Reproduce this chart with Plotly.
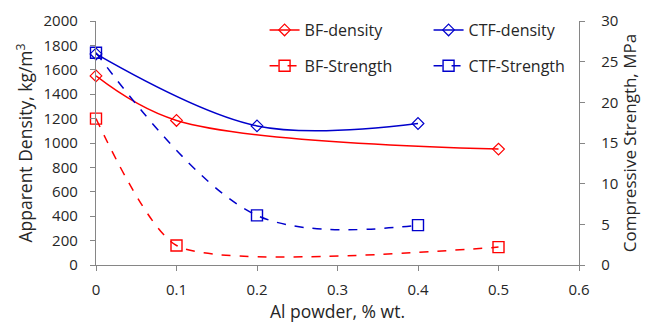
import plotly.graph_objects as go

bf_x = [0, 0.1, 0.5]
bf_density = [1550, 1185, 950]
bf_strength = [18.0, 2.4, 2.2]

ctf_x = [0, 0.2, 0.4]
ctf_density = [1730, 1140, 1160]
ctf_strength = [26.1, 6.1, 4.9]

RED = "#FF0000"
BLUE = "#0000CC"
FONT = "Open Sans"
TXT = "#262626"

fig = go.Figure()
fig.add_trace(go.Scatter(x=bf_x, y=bf_density, name="BF-density", mode="lines+markers",
                         line=dict(color=RED, width=1.5, shape="spline", smoothing=1.0),
                         marker=dict(symbol="diamond-open", size=9, color=RED, line=dict(width=1.2)),
                         cliponaxis=False, legend="legend"))
fig.add_trace(go.Scatter(x=ctf_x, y=ctf_density, name="CTF-density", mode="lines+markers",
                         line=dict(color=BLUE, width=1.5, shape="spline", smoothing=1.0),
                         marker=dict(symbol="diamond-open", size=9, color=BLUE, line=dict(width=1.2)),
                         cliponaxis=False, legend="legend"))
fig.add_trace(go.Scatter(x=bf_x, y=bf_strength, name="BF-Strength", mode="lines+markers", yaxis="y2",
                         line=dict(color=RED, width=1.5, dash="dash", shape="spline", smoothing=0.6),
                         marker=dict(symbol="square-open", size=11, color=RED, line=dict(width=1.4)),
                         cliponaxis=False, legend="legend2"))
fig.add_trace(go.Scatter(x=ctf_x, y=ctf_strength, name="CTF-Strength", mode="lines+markers", yaxis="y2",
                         line=dict(color=BLUE, width=1.5, dash="dash", shape="spline", smoothing=1.0),
                         marker=dict(symbol="square-open", size=11, color=BLUE, line=dict(width=1.4)),
                         cliponaxis=False, legend="legend2"))

axis_common = dict(showgrid=False, zeroline=False, showline=True, linecolor="#868686", linewidth=1.3,
                   ticks="outside", ticklen=5, tickcolor="#868686", automargin=False,
                   tickfont=dict(family=FONT, size=15, color=TXT))

fig.update_layout(
    width=642, height=319,
    margin=dict(l=88, r=71, t=13, b=62, autoexpand=False),
    plot_bgcolor="white", paper_bgcolor="white",
    font=dict(family=FONT, size=15, color=TXT),
    xaxis=dict(range=[0, 0.6], tickvals=[0, 0.1, 0.2, 0.3, 0.4, 0.5, 0.6],
               ticktext=["0", "0.1", "0.2", "0.3", "0.4", "0.5", "0.6"], ticklabelstandoff=6,
               title=dict(text="Al powder, % wt.", font=dict(family=FONT, size=17.5, color=TXT), standoff=6),
               **axis_common),
    yaxis=dict(range=[0, 2000], dtick=200, ticklabelstandoff=9,
               title=dict(text="Apparent Density, kg/m<sup>3</sup>", font=dict(family=FONT, size=17.5, color=TXT), standoff=6),
               **axis_common),
    yaxis2=dict(range=[0, 30], dtick=5, overlaying="y", side="right", ticklabelstandoff=13,
                title=dict(text="Compressive Strength, MPa", font=dict(family=FONT, size=17, color=TXT), standoff=3),
                **axis_common),
    legend=dict(orientation="h", x=0.349, y=0.963, xanchor="left", yanchor="middle",
                entrywidth=119, bgcolor="rgba(0,0,0,0)", font=dict(family=FONT, size=16, color=TXT),
                traceorder="normal"),
    legend2=dict(orientation="h", x=0.349, y=0.816, xanchor="left", yanchor="middle",
                 entrywidth=119, bgcolor="rgba(0,0,0,0)", font=dict(family=FONT, size=16, color=TXT),
                 traceorder="normal"),
)

fig.write_html("out.html")
